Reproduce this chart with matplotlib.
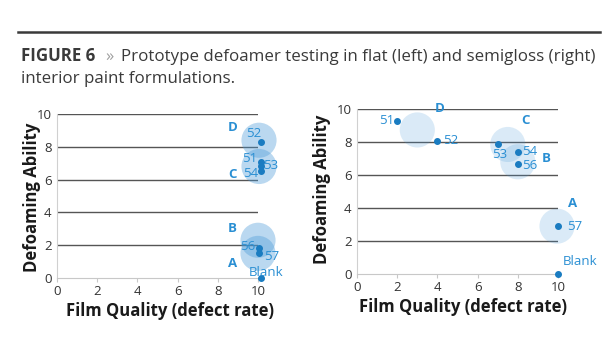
import matplotlib
matplotlib.use("Agg")
import matplotlib.pyplot as plt
from matplotlib.lines import Line2D

plt.rcParams['font.family'] = ['Open Sans', 'DejaVu Sans']

# ---- data: left (flat) ----
L_dot_names = ["52", "51", "53", "54", "56", "57", "Blank"]
L_dot_x = [10.15, 10.15, 10.15, 10.15, 10.05, 10.05, 10.15]
L_dot_y = [8.3, 7.05, 6.85, 6.5, 1.85, 1.5, 0.0]
L_lab_x = [9.8, 9.6, 10.65, 9.65, 9.5, 10.7, 10.4]
L_lab_y = [8.8, 7.3, 6.85, 6.4, 1.9, 1.3, 0.35]
L_grp_names = ["D", "C", "B", "A"]
L_grp_x = [10.05, 10.05, 10.0, 10.0]
L_grp_y = [8.4, 6.8, 2.3, 1.5]
L_grp_lx = [8.75, 8.75, 8.7, 8.75]
L_grp_ly = [9.15, 6.3, 3.0, 0.9]

# ---- data: right (semigloss) ----
R_dot_names = ["51", "52", "53", "54", "56", "57", "Blank"]
R_dot_x = [2.0, 4.0, 7.0, 8.0, 8.0, 10.0, 10.0]
R_dot_y = [9.27, 8.06, 7.86, 7.37, 6.65, 2.9, 0.0]
R_lab_x = [1.5, 4.65, 7.1, 8.6, 8.6, 10.85, 11.1]
R_lab_y = [9.3, 8.1, 7.25, 7.4, 6.6, 2.9, 0.75]
R_grp_names = ["D", "C", "B", "A"]
R_grp_x = [3.0, 7.5, 8.0, 9.95]
R_grp_y = [8.73, 7.85, 6.8, 2.9]
R_grp_lx = [4.1, 8.4, 9.4, 10.7]
R_grp_ly = [10.0, 9.3, 7.0, 4.3]

ticks = [0, 2, 4, 6, 8, 10]

DOT = '#1a7cc1'
LAB = '#2a8fd3'
BUB = '#4a9ad8'

fig = plt.figure(figsize=(6.15, 3.5), dpi=100)
fig.patch.set_facecolor('white')

# header rule and title
fig.add_artist(Line2D([18/615, 600/615], [1-32/350, 1-32/350], color='#3a3a3a', lw=1.8))
fig.text(21/615, 1-61/350, "FIGURE 6", fontsize=12.2, fontweight='bold', color='#3a3a3a', va='baseline')
fig.text(105/615, 1-61/350, "»", fontsize=12, color='#a0a0a0', va='baseline')
fig.text(121/615, 1-61/350, "Prototype defoamer testing in flat (left) and semigloss (right)",
         fontsize=12.2, color='#3a3a3a', va='baseline')
fig.text(21/615, 1-83/350, "interior paint formulations.", fontsize=12.2, color='#3a3a3a', va='baseline')


def panel(rect, dnx, dny, dn, lx, ly, gx, gy, gn, glx, gly, alpha, xlx, yly, ylpad):
    ax = fig.add_axes(rect)
    ax.set_xlim(0, 10)
    ax.set_ylim(0, 10)
    ax.set_xticks(ticks)
    ax.set_yticks(ticks)
    for v in ticks[1:]:
        ax.axhline(v, color='#555555', lw=1.0, zorder=1)
    for s in ['top', 'right']:
        ax.spines[s].set_visible(False)
    ax.spines['left'].set_color('#d0d0d0')
    ax.spines['bottom'].set_color('#c8c8c8')
    ax.tick_params(axis='x', colors='#c8c8c8', labelcolor='#333333', labelsize=9.5, length=3, pad=2)
    ax.tick_params(axis='y', length=0, labelcolor='#333333', labelsize=9.5, pad=4)
    ax.scatter(gx, gy, s=640, color=BUB, alpha=alpha, edgecolors='none', zorder=2, clip_on=False)
    ax.scatter(dnx, dny, s=16, color=DOT, zorder=4, clip_on=False)
    for t, x, y in zip(dn, lx, ly):
        ax.text(x, y, t, color=LAB, fontsize=9.5, ha='center', va='center', zorder=5, clip_on=False)
    for t, x, y in zip(gn, glx, gly):
        ax.text(x, y, t, color=LAB, fontsize=9.5, fontweight='bold', ha='center', va='center',
                zorder=5, clip_on=False)
    ax.set_xlabel("Film Quality (defect rate)", fontsize=12, fontweight='bold', color='#1a1a1a', labelpad=3)
    ax.set_ylabel("Defoaming Ability", fontsize=12, fontweight='bold', color='#1a1a1a', labelpad=ylpad)
    ax.xaxis.label.set_x(xlx)
    ax.yaxis.label.set_y(yly)
    return ax


panel([57/615, 1-278/350, 201/615, 164/350], L_dot_x, L_dot_y, L_dot_names, L_lab_x, L_lab_y,
      L_grp_x, L_grp_y, L_grp_names, L_grp_lx, L_grp_ly, 0.38, 0.56, 0.49, -3)
panel([357/615, 1-274/350, 201/615, 165/350], R_dot_x, R_dot_y, R_dot_names, R_lab_x, R_lab_y,
      R_grp_x, R_grp_y, R_grp_names, R_grp_lx, R_grp_ly, 0.2, 0.526, 0.515, 4)

fig.savefig("out.png", dpi=100, facecolor='white')
